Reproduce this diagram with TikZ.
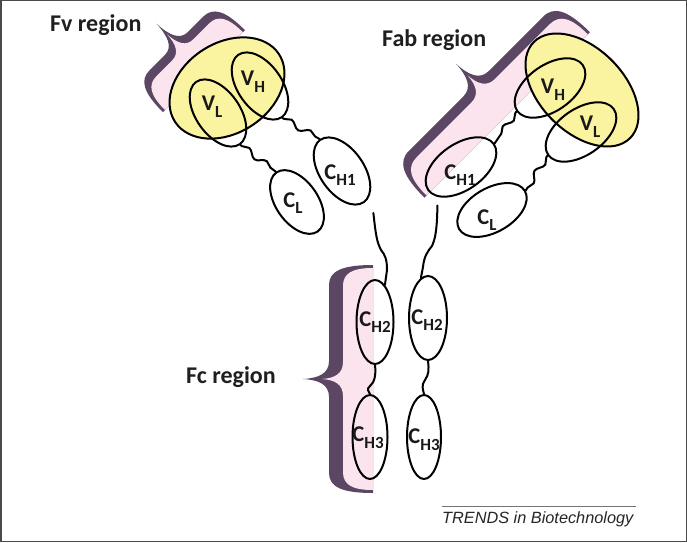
\documentclass[tikz,border=0pt]{standalone}
\usepackage{fontspec}
\setmainfont{Carlito}
\newfontfamily\trendsfont{Liberation Sans}
\usetikzlibrary{shapes.geometric,decorations.pathmorphing}
\definecolor{yel}{HTML}{FAF3A0}
\definecolor{pnk}{HTML}{FCE4EE}
\definecolor{drk}{HTML}{5B4763}
\definecolor{frm}{HTML}{4A4A4A}
% brace outline: #1 start u, #2 length, #3 depth, #4 cusp height, #5 end radius, #6 cusp transition
\newcommand{\bracepth}[6]{({#1},0) .. controls ({#1},{0.7*(#3)}) and ({#1+0.3*(#5)},{#3}) .. ({#1+(#5)},{#3}) -- ({#1+0.5*(#2)-(#6)},{#3}) .. controls ({#1+0.5*(#2)-0.3*(#6)},{#3}) and ({#1+0.5*(#2)-0.05*(#6)},{#3+0.4*(#4)}) .. ({#1+0.5*(#2)},{#3+(#4)}) .. controls ({#1+0.5*(#2)+0.05*(#6)},{#3+0.4*(#4)}) and ({#1+0.5*(#2)+0.3*(#6)},{#3}) .. ({#1+0.5*(#2)+(#6)},{#3}) -- ({#1+(#2)-(#5)},{#3}) .. controls ({#1+(#2)-0.3*(#5)},{#3}) and ({#1+(#2)},{0.7*(#3)}) .. ({#1+(#2)},0) -- cycle}
\newcommand{\dl}[2]{#1\raisebox{-0.3em}{\fontsize{17}{17}\selectfont #2}}
\tikzset{
  dom/.style={draw=black, line width=2pt, ellipse, minimum width=76pt, minimum height=44pt, inner sep=0pt},
  yeldom/.style={draw=black, line width=2pt, ellipse, fill=yel, inner sep=0pt},
  coldom/.style={draw=black, line width=2pt, ellipse, minimum width=37pt, minimum height=84pt, inner sep=0pt},
  wavy/.style={draw=black, line width=2pt, line cap=round, decorate, decoration={snake, amplitude=3pt, segment length=22pt, pre length=2pt, post length=2pt}},
  chain/.style={draw=black, line width=2pt, line cap=round},
  lbl/.style={font=\bfseries\fontsize{22.5}{22.5}\selectfont, text=black!90, inner sep=0pt},
  region/.style={font=\bfseries\fontsize{24}{24}\selectfont, text=black!88, anchor=base west, inner sep=0pt},
}
\begin{document}
\begin{tikzpicture}[x=1pt,y=1pt]
\useasboundingbox (0,0) rectangle (687,542);
\fill[white] (0,0) rectangle (687,542);
% braces
\begin{scope}[shift={(165,432)},rotate=45]
  \fill[drk] \bracepth{-3}{116}{39}{28}{20}{16};
  \fill[pnk] \bracepth{0}{110}{30}{22}{18}{15};
\end{scope}
\begin{scope}[shift={(426.5,346.5)},rotate=45]
  \fill[drk] \bracepth{-3}{234}{44}{28}{22}{18};
  \fill[pnk] \bracepth{0}{228}{34}{22}{20}{17};
\end{scope}
\begin{scope}[shift={(373,52)},rotate=90]
  \fill[drk] \bracepth{-3}{228}{44}{26}{20}{18};
  \fill[pnk] \bracepth{0}{222}{30}{21}{18}{17};
\end{scope}
% yellow variable regions
\node[yeldom, minimum width=124pt, minimum height=90pt, rotate=33] (fvL) at (227,454) {};
\node[yeldom, minimum width=136pt, minimum height=84pt, rotate=-45] (fabR) at (582,452) {};
% left arm
\node[dom, rotate=-55] (vlL) at (218,429) {};
\node[dom, rotate=-55] (vhL) at (260,456) {};
\node[dom, rotate=-55] (ch1L) at (342,371) {};
\node[dom, minimum width=72pt, minimum height=42pt, rotate=-55] (clL) at (297,340) {};
% right arm
\node[dom, minimum width=80pt, minimum height=46pt, rotate=35] (vhR) at (550,454) {};
\node[dom, minimum width=80pt, minimum height=46pt, rotate=35] (vlR) at (581,410) {};
\node[dom, minimum width=80pt, minimum height=46pt, rotate=35] (ch1R) at (461,375) {};
\node[dom, rotate=30] (clR) at (492,332) {};
% Fc column
\node[coldom] (ch2L) at (375,220) {};
\node[coldom, minimum width=35pt] (ch3L) at (370,105) {};
\node[coldom, minimum width=38pt] (ch2R) at (428,224) {};
\node[coldom, minimum width=34pt] (ch3R) at (424,105) {};
% connectors
\draw[wavy] (vhL.east) -- (ch1L.west);
\draw[wavy] (vlL.east) -- (clL.west);
\draw[wavy] (vhR.west) -- (ch1R.east);
\draw[wavy] (vlR.west) -- (clR.east);
\draw[chain] ([shift={(9,-10)}]ch1L.east) .. controls (376,305) and (377,300) .. (381,292) .. controls (385,287) and (387,283) .. (387,272) -- (ch2L.75);
\draw[chain] ([shift={(10,-15)}]ch1R.west) .. controls (437,315) and (436,305) .. (432,296) .. controls (427,290) and (424,285) .. (423,275) -- (ch2R.100);
\draw[chain] (ch2L.south) .. controls (376,168) and (375,160) .. (370,156) .. controls (366,153) and (369,150) .. (ch3L.north);
\draw[chain] (ch2R.south) .. controls (429,172) and (429,168) .. (425,162) .. controls (421,157) and (423,152) .. (ch3R.north);
% labels
\node[lbl] (tvlL) at (212,435) {\dl{V}{L}};
\node[lbl] (tvhL) at (253,460) {\dl{V}{H}};
\node[lbl] (tch1L) at (340,367) {\dl{C}{H1}};
\node[lbl] (tclL) at (293,339) {\dl{C}{L}};
\node[lbl] (tvhR) at (553,452) {\dl{V}{H}};
\node[lbl] (tvlR) at (590,415) {\dl{V}{L}};
\node[lbl] (tch1R) at (460,367) {\dl{C}{H1}};
\node[lbl] (tclR) at (487,322) {\dl{C}{L}};
\node[lbl] (tch2L) at (375,220) {\dl{C}{H2}};
\node[lbl] (tch3L) at (368,104) {\dl{C}{H3}};
\node[lbl] (tch2R) at (427,222) {\dl{C}{H2}};
\node[lbl] (tch3R) at (424,102) {\dl{C}{H3}};
% region titles
\node[region] (fvt) at (50,510) {Fv region};
\node[region] (fabt) at (382,495) {Fab region};
\node[region] (fct) at (186,159) {Fc region};
% journal credit
\draw[black!55, line width=0.8pt] (442,36) coordinate (r1) -- (636,36) coordinate (r2);
\node[font=\trendsfont\itshape\fontsize{16.3}{16.3}\selectfont, text=black!85, anchor=base west, inner sep=0pt] (credit) at (442,19) {TRENDS in Biotechnology};
% frame
\draw[frm, line width=1.5pt] (0.75,0.75) rectangle (686.25,541.25);
\end{tikzpicture}
\end{document}
